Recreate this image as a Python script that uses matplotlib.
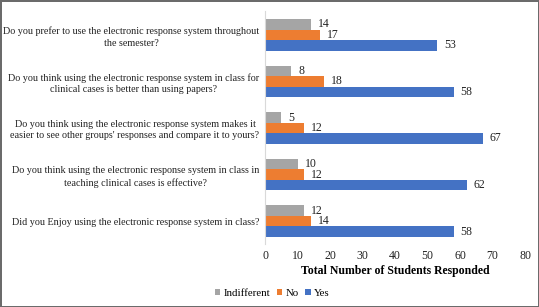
import matplotlib.pyplot as plt
import numpy as np

plt.rcParams['font.family'] = ['Liberation Serif', 'DejaVu Serif']

questions = [
    "Do you prefer to use the electronic response system throughout\nthe semester?",
    "Do you think using the electronic response system in class for\nclinical cases is better than using papers?",
    "Do you think using the electronic response system makes it\neasier to see other groups' responses and compare it to yours?",
    "Do you think using the electronic response system in class in\nteaching clinical cases is effective?",
    "Did you Enjoy using the electronic response system in class?",
]
indifferent = [14, 8, 5, 10, 12]
no = [17, 18, 12, 12, 14]
yes = [53, 58, 67, 62, 58]

series = [("Indifferent", indifferent, "#A5A5A5"),
          ("No", no, "#ED7D31"),
          ("Yes", yes, "#4472C4")]

fig = plt.figure(figsize=(5.39, 3.07), dpi=100)
fig.patch.set_edgecolor("#6b6b6b")
fig.patch.set_linewidth(2)
ax = fig.add_axes([0.4917, 0.2036, 0.4824, 0.759])

n = len(questions)
pos = np.arange(n)[::-1]  # first question on top
h = 0.225
offsets = [h, 0, -h]

for (name, vals, col), off in zip(series, offsets):
    bars = ax.barh(pos + off, vals, height=h, color=col, label=name)
    for b, v in zip(bars, vals):
        ax.text(b.get_width() + 2.2, b.get_y() + b.get_height() / 2, str(v),
                va="center", ha="left", fontsize=8.5, color="#222222")

ax.set_ylim(-0.5, n - 0.5)
ax.set_xlim(0, 80)
ax.set_xticks(range(0, 81, 10))
ax.set_yticks(pos)
ax.set_yticklabels(questions, fontsize=7.3, multialignment="center",
                   linespacing=1.35)
ax.tick_params(axis="both", length=0, colors="#222222")
ax.tick_params(axis="x", labelsize=8.5, pad=4)
ax.tick_params(axis="y", pad=4)

for s in ["top", "right", "bottom"]:
    ax.spines[s].set_visible(False)
ax.spines["left"].set_color("#d9d9d9")

ax.set_xlabel("Total Number of Students Responded", fontsize=8.5,
              fontweight="bold", labelpad=2)

fig.legend(loc="center", bbox_to_anchor=(0.505, 0.045), ncol=3, frameon=False,
           prop={"family": "Liberation Serif", "size": 7.8},
           handlelength=0.5, handleheight=0.5,
           handletextpad=0.3, columnspacing=0.6)

fig.savefig("out.png", dpi=100)
